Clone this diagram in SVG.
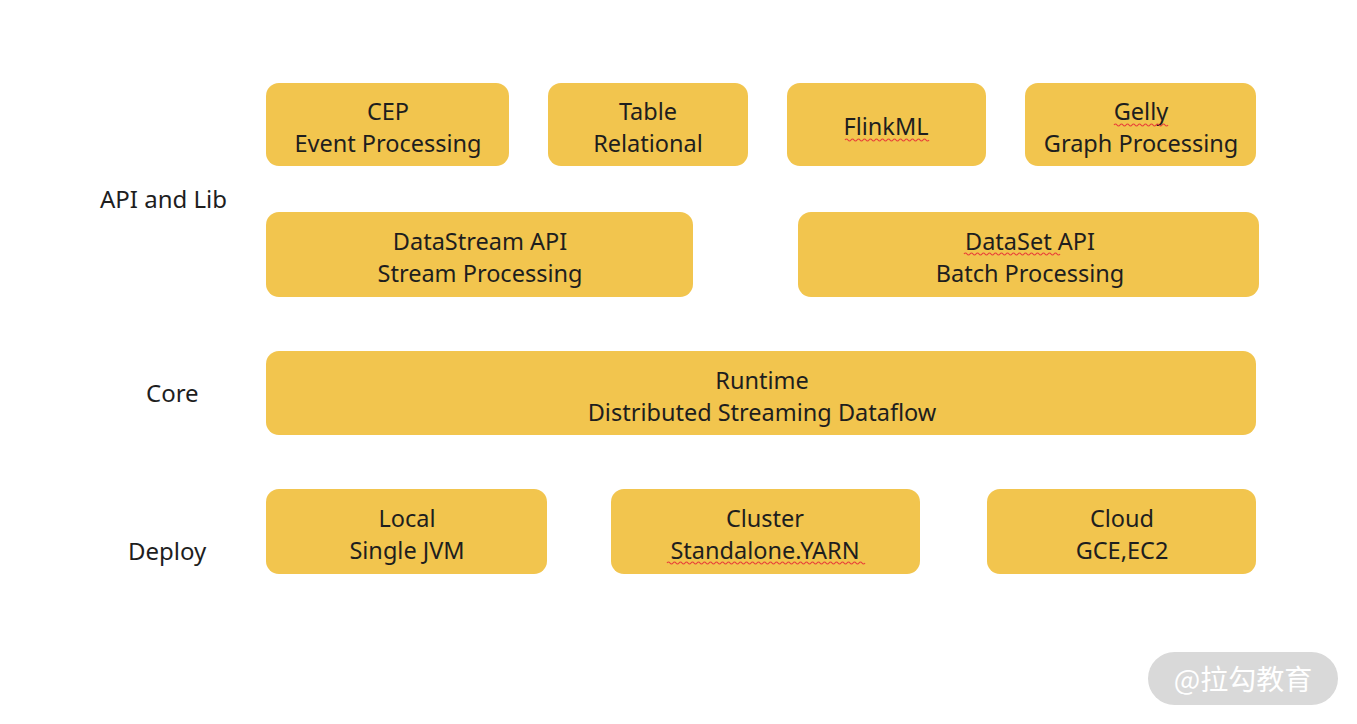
<svg xmlns="http://www.w3.org/2000/svg" width="1357" height="724" viewBox="0 0 1357 724">
<defs>
<style>
.box{fill:#F2C54E;}
.t{font-family:"Noto Sans","Liberation Sans",sans-serif;font-size:23.5px;fill:#1e1e1e;text-anchor:middle;}
.lbl{font-family:"Noto Sans","Liberation Sans",sans-serif;font-size:24px;fill:#1e1e1e;}
.sq{fill:none;stroke:#e8403a;stroke-width:1.2;}
.wm{font-family:"Noto Sans CJK SC","Noto Sans",sans-serif;font-size:28px;fill:#ffffff;text-anchor:middle;}
</style>
</defs>
<rect width="1357" height="724" fill="#ffffff"/>
<g id="labels">
<text class="lbl" x="100" y="208">API and Lib</text>
<text class="lbl" x="146" y="402">Core</text>
<text class="lbl" x="128" y="560">Deploy</text>
</g>
<g id="cep"><rect class="box" x="266" y="83" width="243" height="83" rx="13"/><text class="t" x="388" y="120">CEP</text><text class="t" x="388" y="152">Event Processing</text></g>
<g id="table"><rect class="box" x="548" y="83" width="200" height="83" rx="13"/><text class="t" x="648" y="120">Table</text><text class="t" x="648" y="152">Relational</text></g>
<g id="flinkml"><rect class="box" x="787" y="83" width="199" height="83" rx="13"/><text class="t" x="886" y="135">FlinkML</text></g>
<g id="gelly"><rect class="box" x="1025" y="83" width="231" height="83" rx="13"/><text class="t" x="1141" y="120">Gelly</text><text class="t" x="1141" y="152">Graph Processing</text></g>
<g id="datastream"><rect class="box" x="266" y="212" width="427" height="85" rx="13"/><text class="t" x="480" y="250">DataStream API</text><text class="t" x="480" y="282">Stream Processing</text></g>
<g id="dataset"><rect class="box" x="798" y="212" width="461" height="85" rx="13"/><text class="t" x="1030" y="250">DataSet API</text><text class="t" x="1030" y="282">Batch Processing</text></g>
<g id="runtime"><rect class="box" x="266" y="351" width="990" height="84" rx="13"/><text class="t" x="762" y="389">Runtime</text><text class="t" x="762" y="421">Distributed Streaming Dataflow</text></g>
<g id="local"><rect class="box" x="266" y="489" width="281" height="85" rx="13"/><text class="t" x="407" y="527">Local</text><text class="t" x="407" y="559">Single JVM</text></g>
<g id="cluster"><rect class="box" x="611" y="489" width="309" height="85" rx="13"/><text class="t" x="765" y="527">Cluster</text><text class="t" x="765" y="559">Standalone.YARN</text></g>
<g id="cloud"><rect class="box" x="987" y="489" width="269" height="85" rx="13"/><text class="t" x="1122" y="527">Cloud</text><text class="t" x="1122" y="559">GCE,EC2</text></g>
<g id="squiggles">
<path class="sq" d="M845 140 q1.5 -2 3 0 t3 0 t3 0 t3 0 t3 0 t3 0 t3 0 t3 0 t3 0 t3 0 t3 0 t3 0 t3 0 t3 0 t3 0 t3 0 t3 0 t3 0 t3 0 t3 0 t3 0 t3 0 t3 0 t3 0 t3 0 t3 0 t3 0 t3 0"/>
<path class="sq" d="M1114 125 q1.5 -2 3 0 t3 0 t3 0 t3 0 t3 0 t3 0 t3 0 t3 0 t3 0 t3 0 t3 0 t3 0 t3 0 t3 0 t3 0 t3 0 t3 0 t3 0"/>
<path class="sq" d="M964 254 q1.5 -2 3 0 t3 0 t3 0 t3 0 t3 0 t3 0 t3 0 t3 0 t3 0 t3 0 t3 0 t3 0 t3 0 t3 0 t3 0 t3 0 t3 0 t3 0 t3 0 t3 0 t3 0 t3 0 t3 0 t3 0 t3 0 t3 0 t3 0 t3 0 t3 0 t3 0 t3 0 t3 0"/>
<path class="sq" d="M667 563 q1.5 -2 3 0 t3 0 t3 0 t3 0 t3 0 t3 0 t3 0 t3 0 t3 0 t3 0 t3 0 t3 0 t3 0 t3 0 t3 0 t3 0 t3 0 t3 0 t3 0 t3 0 t3 0 t3 0 t3 0 t3 0 t3 0 t3 0 t3 0 t3 0 t3 0 t3 0 t3 0 t3 0 t3 0 t3 0 t3 0 t3 0 t3 0 t3 0 t3 0 t3 0 t3 0 t3 0 t3 0 t3 0 t3 0 t3 0 t3 0 t3 0 t3 0 t3 0 t3 0 t3 0 t3 0 t3 0 t3 0 t3 0 t3 0 t3 0 t3 0 t3 0 t3 0 t3 0 t3 0 t3 0 t3 0 t3 0"/>
</g>
<g id="watermark"><rect x="1148" y="652" width="190" height="53" rx="26.5" fill="#d9d9d9"/><text class="wm" x="1243" y="690">@拉勾教育</text></g>
</svg>
